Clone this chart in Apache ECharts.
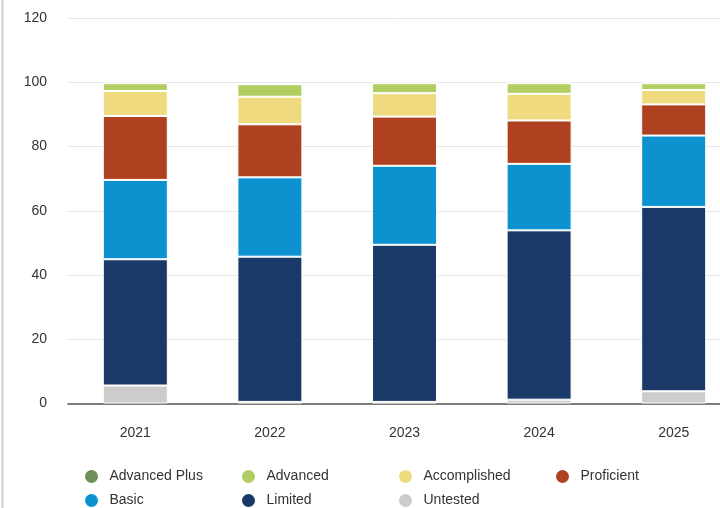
<!DOCTYPE html>
<html>
<head>
<meta charset="utf-8">
<script src="https://cdn.jsdelivr.net/npm/echarts@6/dist/echarts.min.js"></script>
<style>html,body{margin:0;padding:0;background:#fff;}#c{width:720px;height:508px;}</style>
</head>
<body>
<div id="c"></div>
<script>
var categories = ['2021', '2022', '2023', '2024', '2025'];
var yTicks = [0, 20, 40, 60, 80, 100, 120];
var untested     = [5.6, 0.5, 0.5, 1.2, 3.8];
var limited      = [39.3, 45.2, 48.9, 52.7, 57.4];
var basic        = [24.7, 24.7, 24.6, 20.7, 22.2];
var proficient   = [19.9, 16.5, 15.3, 13.5, 9.7];
var accomplished = [7.8, 8.6, 7.3, 8.3, 4.5];
var advanced     = [2.4, 3.9, 3.1, 3.3, 2.1];
var advancedPlus = [0, 0, 0, 0, 0];
var legendOrder = ['Advanced Plus', 'Advanced', 'Accomplished', 'Proficient', 'Basic', 'Limited', 'Untested'];

var colors = {
  'Advanced Plus': '#6e8f57',
  'Advanced': '#b2cd62',
  'Accomplished': '#f0da80',
  'Proficient': '#b04120',
  'Basic': '#0b92cf',
  'Limited': '#1a3968',
  'Untested': '#cccccc'
};
var stackSeries = [
  ['Untested', untested],
  ['Limited', limited],
  ['Basic', basic],
  ['Proficient', proficient],
  ['Accomplished', accomplished],
  ['Advanced', advanced],
  ['Advanced Plus', advancedPlus]
];
var font = '"Liberation Sans", Arial, sans-serif';

var series = stackSeries.map(function (s) {
  return {
    name: s[0], type: 'bar', stack: 'total', data: s[1], barWidth: 65,
    itemStyle: { color: colors[s[0]], borderColor: '#ffffff', borderWidth: 1 },
    emphasis: { disabled: true }
  };
});

var legendPos = [
  [83, 468], [240, 468], [397, 468], [554, 468],
  [83, 492], [240, 492], [397, 492]
];
var legends = legendOrder.map(function (name, i) {
  return {
    data: [name], left: legendPos[i][0], top: legendPos[i][1], padding: 0,
    icon: 'circle', itemWidth: 26, itemHeight: 15, itemGap: 0,
    selectedMode: false,
    textStyle: { fontFamily: font, fontSize: 14, color: '#333', padding: [0, 0, 0, 0] }
  };
});

var chart = echarts.init(document.getElementById('c'), null, { renderer: 'canvas' });
chart.setOption({
  animation: false,
  backgroundColor: '#ffffff',
  legend: legends,
  grid: { left: 68, width: 673, top: 18, bottom: 104.5, containLabel: false, outerBoundsMode: 'none' },
  xAxis: {
    type: 'category', data: categories,
    axisLine: { lineStyle: { color: '#555', width: 1.5 } },
    axisTick: { show: false },
    axisLabel: { fontFamily: font, fontSize: 14, color: '#333', margin: 23 }
  },
  yAxis: {
    type: 'value', min: yTicks[0], max: yTicks[yTicks.length - 1], interval: 20,
    axisLine: { show: false }, axisTick: { show: false },
    axisLabel: { fontFamily: font, fontSize: 14, color: '#333', margin: 21 },
    splitLine: { lineStyle: { color: '#e6e6e6', width: 1 } }
  },
  graphic: [{
    type: 'line', shape: { x1: 2.5, y1: 0, x2: 2.5, y2: 508 },
    style: { stroke: '#cfcfcf', lineWidth: 2 }, silent: true
  }],
  series: series
});
</script>
</body>
</html>
